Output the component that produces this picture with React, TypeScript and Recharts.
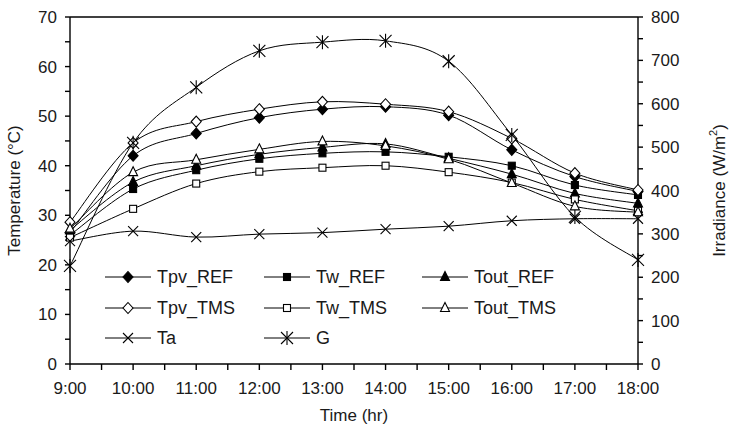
import React from "react";
import { LineChart, Line, XAxis, YAxis, Legend, ReferenceLine } from "recharts";

// hourly readings, 9:00 to 18:00
const timeLabels = ["9:00", "10:00", "11:00", "12:00", "13:00", "14:00", "15:00", "16:00", "17:00", "18:00"];
const tpvRef = [26.5, 42.0, 46.5, 49.7, 51.4, 51.9, 50.2, 43.2, 37.8, 34.8];
const twRef = [26.0, 35.3, 39.1, 41.4, 42.5, 42.8, 41.8, 40.0, 36.1, 34.1];
const toutRef = [27.0, 36.7, 40.0, 42.3, 43.7, 44.4, 41.5, 38.3, 34.4, 32.4];
const tpvTms = [28.6, 44.6, 48.9, 51.4, 52.9, 52.4, 50.9, 45.5, 38.5, 35.1];
const twTms = [25.5, 31.3, 36.4, 38.8, 39.6, 40.0, 38.7, 36.6, 33.2, 30.9];
const toutTms = [27.3, 38.7, 41.2, 43.3, 44.9, 44.0, 41.3, 36.5, 31.8, 30.6];
const ambient = [24.8, 26.8, 25.6, 26.2, 26.5, 27.2, 27.8, 28.9, 29.3, 29.3];
const irradiance = [226, 510, 638, 722, 742, 745, 698, 528, 339, 240];

const tempTicks = [0, 5, 10, 15, 20, 25, 30, 35, 40, 45, 50, 55, 60, 65, 70];
const irrTicks = [0, 50, 100, 150, 200, 250, 300, 350, 400, 450, 500, 550, 600, 650, 700, 750, 800];

const hours = timeLabels.map((t) => parseInt(t, 10));
const hourTicks = hours.flatMap((h, i) => (i < hours.length - 1 ? [h, h + 0.5] : [h]));

const data = hours.map((hour, i) => ({
  hour,
  Tpv_REF: tpvRef[i],
  Tw_REF: twRef[i],
  Tout_REF: toutRef[i],
  Tpv_TMS: tpvTms[i],
  Tw_TMS: twTms[i],
  Tout_TMS: toutTms[i],
  Ta: ambient[i],
  G: irradiance[i],
}));

type Kind = "diamond" | "square" | "triangle" | "cross" | "star";

const series: { key: string; kind: Kind; filled: boolean; axis: string }[] = [
  { key: "Tpv_REF", kind: "diamond", filled: true, axis: "left" },
  { key: "Tw_REF", kind: "square", filled: true, axis: "left" },
  { key: "Tout_REF", kind: "triangle", filled: true, axis: "left" },
  { key: "Tpv_TMS", kind: "diamond", filled: false, axis: "left" },
  { key: "Tw_TMS", kind: "square", filled: false, axis: "left" },
  { key: "Tout_TMS", kind: "triangle", filled: false, axis: "left" },
  { key: "Ta", kind: "cross", filled: false, axis: "left" },
  { key: "G", kind: "star", filled: false, axis: "right" },
];

const FONT = "'Liberation Sans', Arial, sans-serif";
const INK = "#1a1a1a";

// spreadsheet-style smoothing: bezier segments, control points at 1/6 of the neighbour chord
function smoothCurve(context: any) {
  let pts: number[][] = [];
  return {
    areaStart() {},
    areaEnd() {},
    lineStart() {
      pts = [];
    },
    point(x: number, y: number) {
      pts.push([x, y]);
    },
    lineEnd() {
      if (!pts.length) return;
      context.moveTo(pts[0][0], pts[0][1]);
      for (let i = 0; i < pts.length - 1; i++) {
        const p0 = pts[Math.max(i - 1, 0)];
        const p1 = pts[i];
        const p2 = pts[i + 1];
        const p3 = pts[Math.min(i + 2, pts.length - 1)];
        context.bezierCurveTo(
          p1[0] + (p2[0] - p0[0]) / 6,
          p1[1] + (p2[1] - p0[1]) / 6,
          p2[0] - (p3[0] - p1[0]) / 6,
          p2[1] - (p3[1] - p1[1]) / 6,
          p2[0],
          p2[1]
        );
      }
    },
  };
}

function Marker({ kind, filled, cx, cy }: { kind: Kind; filled: boolean; cx: number; cy: number }) {
  const fill = filled ? "#000" : "#fff";
  const common = { stroke: "#000", strokeWidth: 1.1 };
  switch (kind) {
    case "diamond":
      return (
        <polygon
          points={`${cx},${cy - 5.5} ${cx + 5},${cy} ${cx},${cy + 5.5} ${cx - 5},${cy}`}
          fill={fill}
          {...common}
        />
      );
    case "square":
      return <rect x={cx - 3.5} y={cy - 3.5} width={7} height={7} fill={fill} {...common} />;
    case "triangle":
      return (
        <polygon
          points={`${cx},${cy - 5.5} ${cx + 4.5},${cy + 3.5} ${cx - 4.5},${cy + 3.5}`}
          fill={fill}
          {...common}
        />
      );
    case "cross":
      return (
        <g {...common}>
          <line x1={cx - 5} y1={cy - 5} x2={cx + 5} y2={cy + 5} />
          <line x1={cx - 5} y1={cy + 5} x2={cx + 5} y2={cy - 5} />
        </g>
      );
    default:
      return (
        <g {...common}>
          <line x1={cx - 6} y1={cy - 6} x2={cx + 6} y2={cy + 6} />
          <line x1={cx - 6} y1={cy + 6} x2={cx + 6} y2={cy - 6} />
          <line x1={cx} y1={cy - 7} x2={cx} y2={cy + 7} />
        </g>
      );
  }
}

const renderLegend = () => (
  <div style={{ display: "grid", gridTemplateColumns: "159px 158px 158px", fontFamily: FONT }}>
    {series.map((s) => (
      <div key={s.key} style={{ display: "flex", alignItems: "center", height: 30.5 }}>
        <svg width={52} height={16} style={{ display: "block" }}>
          <line x1={0} y1={8} x2={46} y2={8} stroke="#000" strokeWidth={1} />
          <Marker kind={s.kind} filled={s.filled} cx={23} cy={8} />
        </svg>
        <span style={{ fontSize: 18, color: INK, lineHeight: "18px" }}>{s.key}</span>
      </div>
    ))}
  </div>
);

const tickStyle = { fontSize: 17, fill: INK, fontFamily: FONT };

export default function App() {
  return (
    <div style={{ position: "absolute", left: 0, top: 0, background: "#fff" }}>
      <LineChart width={732} height={425} data={data} margin={{ top: 17, right: 0, bottom: 0, left: 0 }}>
        <XAxis
          dataKey="hour"
          type="number"
          domain={[9, 18]}
          ticks={hourTicks}
          interval={0}
          tickFormatter={(v: number) => (Number.isInteger(v) ? timeLabels[v - 9] : "")}
          height={61}
          tick={tickStyle}
          tickSize={6}
          tickMargin={12}
          stroke="#000"
          strokeWidth={1.4}
          label={({ viewBox }: any) => (
            <text
              x={viewBox.x + viewBox.width / 2}
              y={421}
              textAnchor="middle"
              fontSize={17}
              fill={INK}
              fontFamily={FONT}
            >
              Time (hr)
            </text>
          )}
        />
        <YAxis
          yAxisId="left"
          domain={[0, 70]}
          ticks={tempTicks}
          interval={0}
          tickFormatter={(v: number) => (v % 10 === 0 ? String(v) : "")}
          width={70}
          tick={tickStyle}
          tickSize={5}
          tickMargin={8}
          stroke="#000"
          strokeWidth={1.4}
          label={({ viewBox }: any) => {
            const x = viewBox.x + 14;
            const y = viewBox.y + viewBox.height / 2;
            return (
              <text
                x={x}
                y={y}
                transform={`rotate(-90 ${x} ${y})`}
                textAnchor="middle"
                dominantBaseline="central"
                fontSize={17}
                fill={INK}
                fontFamily={FONT}
              >
                Temperature (°C)
              </text>
            );
          }}
        />
        <YAxis
          yAxisId="right"
          orientation="right"
          domain={[0, 800]}
          ticks={irrTicks}
          interval={0}
          tickFormatter={(v: number) => (v % 100 === 0 ? String(v) : "")}
          width={94}
          tick={tickStyle}
          tickSize={5}
          tickMargin={8}
          stroke="#000"
          strokeWidth={1.4}
          label={({ viewBox }: any) => {
            const x = viewBox.x + 81;
            const y = viewBox.y + viewBox.height / 2;
            return (
              <text
                x={x}
                y={y}
                transform={`rotate(-90 ${x} ${y})`}
                textAnchor="middle"
                dominantBaseline="central"
                fontSize={17}
                fill={INK}
                fontFamily={FONT}
              >
                Irradiance (W/m
                <tspan baselineShift="super" fontSize={11}>
                  2
                </tspan>
                )
              </text>
            );
          }}
        />
        <ReferenceLine yAxisId="left" y={70} stroke="#000" strokeWidth={1.4} />
        {series.map((s) => (
          <Line
            key={s.key}
            yAxisId={s.axis}
            dataKey={s.key}
            type={smoothCurve as any}
            stroke="#000"
            strokeWidth={1}
            isAnimationActive={false}
            activeDot={false}
            dot={(p: any) => (
              <Marker key={`${s.key}-${p.index}`} kind={s.kind} filled={s.filled} cx={p.cx} cy={p.cy} />
            )}
          />
        ))}
        <Legend
          layout="vertical"
          align="center"
          verticalAlign="middle"
          content={renderLegend}
          wrapperStyle={{ left: 105, top: 262, width: 480 }}
        />
      </LineChart>
    </div>
  );
}
